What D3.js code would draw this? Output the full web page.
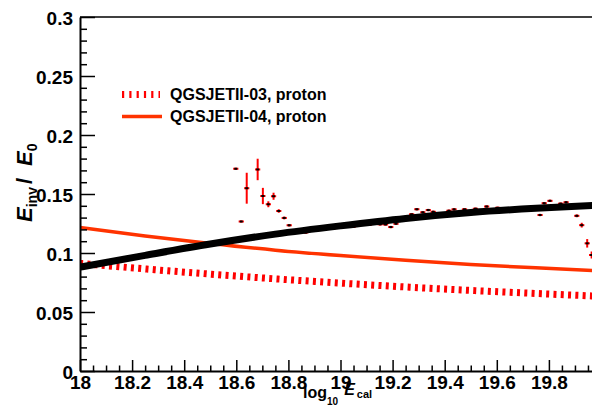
<!DOCTYPE html>
<html>
<head>
<meta charset="utf-8">
<script src="https://cdn.jsdelivr.net/npm/d3@7"></script>
<style>
  html, body { margin: 0; padding: 0; background: #fff; }
  svg { display: block; }
  text { font-family: "Liberation Sans", Arial, Helvetica, sans-serif; font-weight: bold; }
</style>
</head>
<body>
<svg id="chart" width="592" height="408"></svg>
<script>
// Tick values and labels
const xMajorTicks = [18, 18.2, 18.4, 18.6, 18.8, 19, 19.2, 19.4, 19.6, 19.8];
const xTickLabels = ["18", "18.2", "18.4", "18.6", "18.8", "19", "19.2", "19.4", "19.6", "19.8"];
const yMajorTicks = [0, 0.05, 0.1, 0.15, 0.2, 0.25, 0.3];
const yTickLabels = ["0", "0.05", "0.1", "0.15", "0.2", "0.25", "0.3"];

// Parametrisation curves, sampled in log10(E_cal)
const curveX  = [18, 18.25, 18.5, 18.75, 19, 19.25, 19.5, 19.75, 20];
const fitData = [0.0880, 0.0980, 0.1076, 0.1160, 0.1230, 0.1293, 0.1343, 0.1379, 0.1406];
const qgs04   = [0.1216, 0.1145, 0.1081, 0.1024, 0.0978, 0.0938, 0.0903, 0.0874, 0.0849];
const qgs03   = [0.0912, 0.0865, 0.0821, 0.0781, 0.0745, 0.0712, 0.0683, 0.0657, 0.0633];

// Measured ratio with statistical errors
const ptX = [18.598, 18.619, 18.640, 18.682, 18.702, 18.723, 18.743, 18.763, 18.784, 18.803,
             18.866, 18.908, 18.972, 19.049, 19.111, 19.152, 19.173, 19.193, 19.213, 19.273,
             19.293, 19.316, 19.337, 19.356, 19.416, 19.436, 19.476, 19.518, 19.561, 19.603,
             19.766, 19.782, 19.804, 19.845, 19.866, 19.907, 19.926, 19.947, 19.964];
const ptY = [0.1714, 0.1267, 0.1549, 0.1708, 0.1483, 0.1413, 0.1481, 0.1356, 0.1297, 0.1235,
             0.1174, 0.1191, 0.1209, 0.1223, 0.1240, 0.1243, 0.1242, 0.1220, 0.1248, 0.1328,
             0.1371, 0.1345, 0.1364, 0.1349, 0.1358, 0.1370, 0.1370, 0.1375, 0.1394, 0.1383,
             0.1322, 0.1422, 0.1442, 0.1418, 0.1430, 0.1315, 0.1236, 0.1082, 0.0983];
const ptErr = [0.0008, 0.0008, 0.0131, 0.0091, 0.0069, 0.0025, 0.0030, 0.0015, 0.0012, 0.0010,
               0.0010, 0.0010, 0.0010, 0.0010, 0.0010, 0.0010, 0.0010, 0.0010, 0.0010, 0.0010,
               0.0010, 0.0010, 0.0010, 0.0010, 0.0010, 0.0010, 0.0010, 0.0010, 0.0010, 0.0010,
               0.0010, 0.0010, 0.0010, 0.0010, 0.0010, 0.0012, 0.0020, 0.0036, 0.0030];
const binHalf = 0.01;

const svg = d3.select("#chart");
const padL = 80, padR = 601, padT = 17, padB = 371;

const x = d3.scaleLinear().domain([18, 20]).range([padL, padR]);
const y = d3.scaleLinear().domain([0, 0.3]).range([padB, padT]);

svg.append("defs").append("clipPath").attr("id", "plotArea")
  .append("rect").attr("x", padL).attr("y", padT)
  .attr("width", padR - padL).attr("height", padB - padT);

const plot = svg.append("g").attr("clip-path", "url(#plotArea)");

// Data points: x bin bar, vertical error bar, small marker
const pts = d3.range(ptX.length).map(i => ({ x: ptX[i], y: ptY[i], e: ptErr[i] }));
const pg = plot.append("g");
pg.selectAll("line.h").data(pts).join("line").attr("class", "h")
  .attr("x1", d => x(d.x - binHalf)).attr("x2", d => x(d.x + binHalf))
  .attr("y1", d => y(d.y)).attr("y2", d => y(d.y))
  .attr("stroke", "#ff0000").attr("stroke-width", 2);
pg.selectAll("line.v").data(pts).join("line").attr("class", "v")
  .attr("x1", d => x(d.x)).attr("x2", d => x(d.x))
  .attr("y1", d => y(d.y - d.e)).attr("y2", d => y(d.y + d.e))
  .attr("stroke", "#ff0000").attr("stroke-width", 2);
pg.selectAll("rect").data(pts).join("rect")
  .attr("x", d => x(d.x) - 1.5).attr("y", d => y(d.y) - 1)
  .attr("width", 3).attr("height", 2).attr("fill", "#000");

const line = vals => d3.line()
  .x((d, i) => x(curveX[i]))
  .y(d => y(d))
  .curve(d3.curveMonotoneX)(vals);

plot.append("path").attr("d", line(qgs03))
  .attr("fill", "none").attr("stroke", "#ff0000")
  .attr("stroke-width", 7).attr("stroke-dasharray", "3,4.3");
plot.append("path").attr("d", line(qgs04))
  .attr("fill", "none").attr("stroke", "#ff3300").attr("stroke-width", 3.5);
plot.append("path").attr("d", line(fitData))
  .attr("fill", "none").attr("stroke", "#000").attr("stroke-width", 7);

// Frame top edge
svg.append("line").attr("x1", padL).attr("x2", 592).attr("y1", padT).attr("y2", padT)
  .attr("stroke", "#000").attr("stroke-width", 1.3);

// Y axis: minor then major ticks, pointing into the plot
const yMinor = d3.range(0, 0.3001, 0.01).filter(v => Math.abs(v / 0.05 - Math.round(v / 0.05)) > 1e-6);
svg.append("g").attr("transform", `translate(${padL},0)`)
  .call(d3.axisLeft(y).tickValues(yMinor).tickSize(-7).tickSizeOuter(0).tickFormat(""))
  .call(g => g.select(".domain").remove())
  .call(g => g.selectAll("line").attr("stroke-width", 1.5));
const yAx = svg.append("g").attr("transform", `translate(${padL},0)`)
  .call(d3.axisLeft(y).tickValues(yMajorTicks).tickSize(-15).tickSizeOuter(0)
    .tickPadding(7).tickFormat((d, i) => yTickLabels[i]));
yAx.select(".domain").attr("stroke-width", 2);
yAx.selectAll("line").attr("stroke-width", 1.5);
yAx.selectAll("text").attr("font-size", 19).attr("font-family", null).attr("dy", "0.42em");

// X axis
const xMinor = d3.range(18, 20.001, 0.05).filter(v => Math.abs(v / 0.2 - Math.round(v / 0.2)) > 1e-6);
svg.append("g").attr("transform", `translate(0,${padB})`)
  .call(d3.axisBottom(x).tickValues(xMinor).tickSize(-5.5).tickSizeOuter(0).tickFormat(""))
  .call(g => g.select(".domain").remove())
  .call(g => g.selectAll("line").attr("stroke-width", 1.5));
const xAx = svg.append("g").attr("transform", `translate(0,${padB})`)
  .call(d3.axisBottom(x).tickValues(xMajorTicks.concat([20])).tickSize(-11).tickSizeOuter(0)
    .tickPadding(5).tickFormat(d => { const i = xMajorTicks.indexOf(d); return i >= 0 ? xTickLabels[i] : ""; }));
xAx.select(".domain").attr("stroke-width", 2);
xAx.selectAll("line").attr("stroke-width", 1.5);
xAx.selectAll("text").attr("font-size", 19).attr("font-family", null);

// Axis titles
const xt = svg.append("text").attr("x", 303).attr("y", 398);
xt.append("tspan").attr("font-size", 16).text("log");
xt.append("tspan").attr("font-size", 10).attr("dy", 7).text("10");
xt.append("tspan").attr("font-size", 16).attr("font-style", "italic").attr("dy", -10).attr("dx", 6).text("E");
xt.append("tspan").attr("font-size", 11).attr("dy", 3).attr("dx", 2).text("cal");

const yt = svg.append("text").attr("transform", "translate(32,222) rotate(-90)");
yt.append("tspan").attr("font-size", 22).attr("font-style", "italic").text("E");
yt.append("tspan").attr("font-size", 14).attr("dy", 5).text("inv");
yt.append("tspan").attr("font-size", 22).attr("dy", -5).attr("dx", 3).text("/");
yt.append("tspan").attr("font-size", 22).attr("font-style", "italic").attr("dx", 12).text("E");
yt.append("tspan").attr("font-size", 14).attr("dy", 5).text("0");

// Legend
const legend = svg.append("g");
legend.append("line").attr("x1", 122).attr("x2", 160).attr("y1", 94.5).attr("y2", 94.5)
  .attr("stroke", "#ff0000").attr("stroke-width", 7).attr("stroke-dasharray", "2.2,5.1");
legend.append("text").attr("x", 170).attr("y", 99.5).attr("font-size", 16).text("QGSJETII-03, proton");
legend.append("line").attr("x1", 122).attr("x2", 162).attr("y1", 116.5).attr("y2", 116.5)
  .attr("stroke", "#ff3300").attr("stroke-width", 3.5);
legend.append("text").attr("x", 170).attr("y", 121.5).attr("font-size", 16).text("QGSJETII-04, proton");
</script>
</body>
</html>
